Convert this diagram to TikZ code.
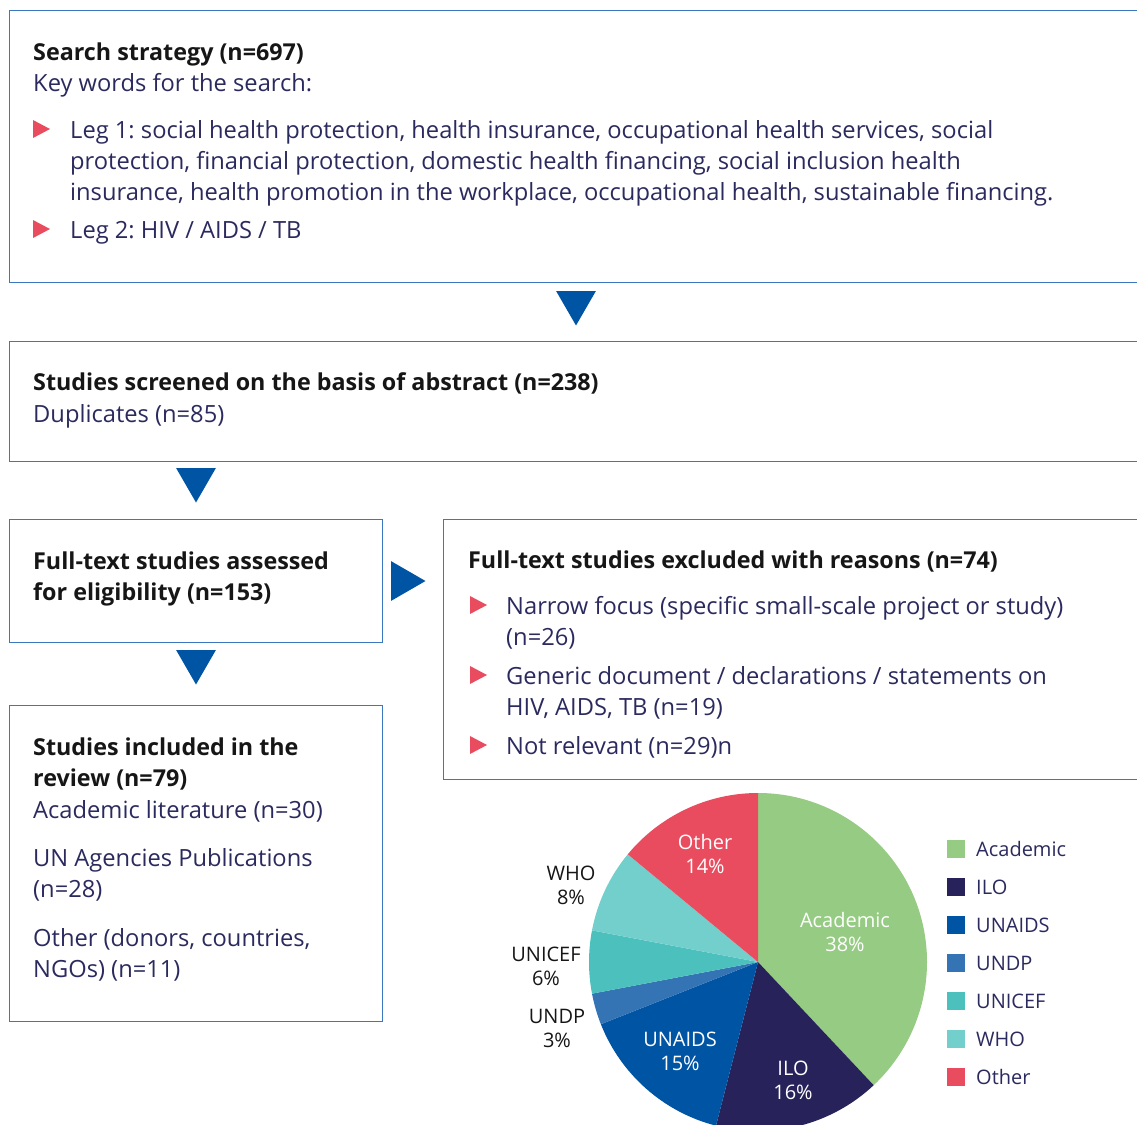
\documentclass[tikz,border=0pt]{standalone}
\usepackage{fontspec}
\setmainfont{Open Sans}
\usetikzlibrary{shapes.geometric}
\frenchspacing

\definecolor{framecol}{HTML}{3B78BF}
\definecolor{arrowcol}{HTML}{0054A4}
\definecolor{bulletcol}{HTML}{E84C5E}
\definecolor{bodycol}{HTML}{2B2A5E}
\definecolor{headcol}{HTML}{161616}
\definecolor{academiccol}{HTML}{95CB82}
\definecolor{ilocol}{HTML}{27235A}
\definecolor{unaidscol}{HTML}{0054A4}
\definecolor{undpcol}{HTML}{3474B5}
\definecolor{unicefcol}{HTML}{4CC0BD}
\definecolor{whocol}{HTML}{72CFCC}
\definecolor{othercol}{HTML}{E84C5E}

% red bullet, placed at the baseline of its line
\newcommand{\bulletmark}[1]{\fill[bulletcol] (#1) ++(0,-18) -- ++(0,18) -- ++(17,-9) -- cycle;}

\begin{document}
\begin{tikzpicture}[x=1pt,y=-1pt,
        stage/.style={rectangle, draw=framecol, line width=1.3pt, anchor=north west, inner sep=0pt},
        flowtri/.style={regular polygon, regular polygon sides=3, fill=arrowcol, minimum size=46pt, inner sep=0pt},
        head/.style={anchor=base west, inner sep=0pt, align=left, text=headcol, font=\bfseries\fontsize{23.3}{31}\selectfont},
        body/.style={anchor=base west, inner sep=0pt, align=left, text=bodycol, font=\fontsize{23.7}{31}\selectfont},
        slicetext/.style={align=center, inner sep=0pt, text=white, font=\fontsize{20}{24}\selectfont},
        outtext/.style={align=center, inner sep=0pt, text=headcol, font=\fontsize{20}{24}\selectfont},
        keybox/.style={rectangle, minimum size=18pt, inner sep=0pt},
        keytext/.style={anchor=base west, inner sep=0pt, text=bodycol, font=\fontsize{20}{24}\selectfont}
    ]
        \useasboundingbox (0,0) rectangle (1137,1124);
        \clip (0,0) rectangle (1137,1124);

        % Boxes
        \node[stage, minimum width=1150pt, minimum height=272pt] (search) at (9,10) {};
        \node[stage, minimum width=1150pt, minimum height=120pt] (screen) at (9,341) {};
        \node[stage, minimum width=373pt, minimum height=123pt] (assess) at (9,519) {};
        \node[stage, minimum width=720pt, minimum height=260pt] (exclude) at (443,519) {};
        \node[stage, minimum width=373pt, minimum height=316pt] (include) at (9,705) {};

        % Flow arrows
        \node[flowtri, shape border rotate=180] (down1) at (576,302.5) {};
        \node[flowtri, shape border rotate=180] (down2) at (196,479.5) {};
        \node[flowtri, shape border rotate=180] (down3) at (196,661.5) {};
        \node[flowtri, shape border rotate=270] (right1) at (402.5,581) {};

        % Search strategy (multi-line texts sit on their last baseline)
        \node[head] (searchhead) at (33,60) {Search strategy (n=697)};
        \node[body] (searchkey) at (33,92) {Key words for the search:};
        \bulletmark{33,138}
        \node[body] (leg1) at (70,200) {Leg 1: social health protection, health insurance, occupational health services, social\\protection, financial protection, domestic health financing, social inclusion health\\insurance, health promotion in the workplace, occupational health, sustainable financing.};
        \bulletmark{33,238}
        \node[body] (leg2) at (70,238) {Leg 2: HIV / AIDS / TB};

        % Screening
        \node[head] (screenhead) at (33,390) {Studies screened on the basis of abstract (n=238)};
        \node[body] (dupl) at (33,422) {Duplicates (n=85)};

        % Eligibility
        \node[head] (assesshead) at (33,600) {Full-text studies assessed\\for eligibility (n=153)};

        % Exclusions
        \node[head] (excludehead) at (468,568) {Full-text studies excluded with reasons (n=74)};
        \bulletmark{470,614}
        \node[body] (narrow) at (506,645) {Narrow focus (specific small-scale project or study)\\(n=26)};
        \bulletmark{470,684}
        \node[body] (generic) at (506,715) {Generic document / declarations / statements on\\HIV, AIDS, TB (n=19)};
        \bulletmark{470,754}
        \node[body] (notrel) at (506,754) {Not relevant (n=29)n};

        % Included
        \node[head] (includehead) at (33,786) {Studies included in the\\review (n=79)};
        \node[body] (acadlit) at (33,818) {Academic literature (n=30)};
        \node[body] (unpub) at (33,897) {UN Agencies Publications\\(n=28)};
        \node[body] (otherpub) at (33,977) {Other (donors, countries,\\NGOs) (n=11)};

        % Pie chart
        \begin{scope}[shift={(758,962)}]
            \foreach \from/\to/\col in {90/-46.8/academiccol, -46.8/-104.4/ilocol,
                    -104.4/-158.4/unaidscol, -158.4/-169.2/undpcol, -169.2/-190.8/unicefcol,
                    -190.8/-219.6/whocol, -219.6/-270/othercol}
                \fill[\col] (0pt,0pt) -- (\from:169pt) arc[start angle=\from, end angle=\to, radius=169pt] -- cycle;
        \end{scope}

        \node[slicetext] (acadlabel) at (845,932) {Academic\\38\%};
        \node[slicetext] (ilolabel) at (793,1080) {ILO\\16\%};
        \node[slicetext] (unaidslabel) at (680,1051) {UNAIDS\\15\%};
        \node[slicetext] (otherlabel) at (705,854) {Other\\14\%};
        \node[outtext] (wholabel) at (571,885) {WHO\\8\%};
        \node[outtext] (uniceflabel) at (546,966) {UNICEF\\6\%};
        \node[outtext] (undplabel) at (557,1028) {UNDP\\3\%};

        % Legend
        \foreach \col/\name [count=\i from 0] in {academiccol/Academic, ilocol/ILO, unaidscol/UNAIDS,
                undpcol/UNDP, unicefcol/UNICEF, whocol/WHO, othercol/Other} {
            \node[keybox, fill=\col] (key\i) at (956,{849+38*\i}) {};
            \node[keytext] (keyname\i) at (976,{856+38*\i}) {\name};
        }
    \end{tikzpicture}
\end{document}
